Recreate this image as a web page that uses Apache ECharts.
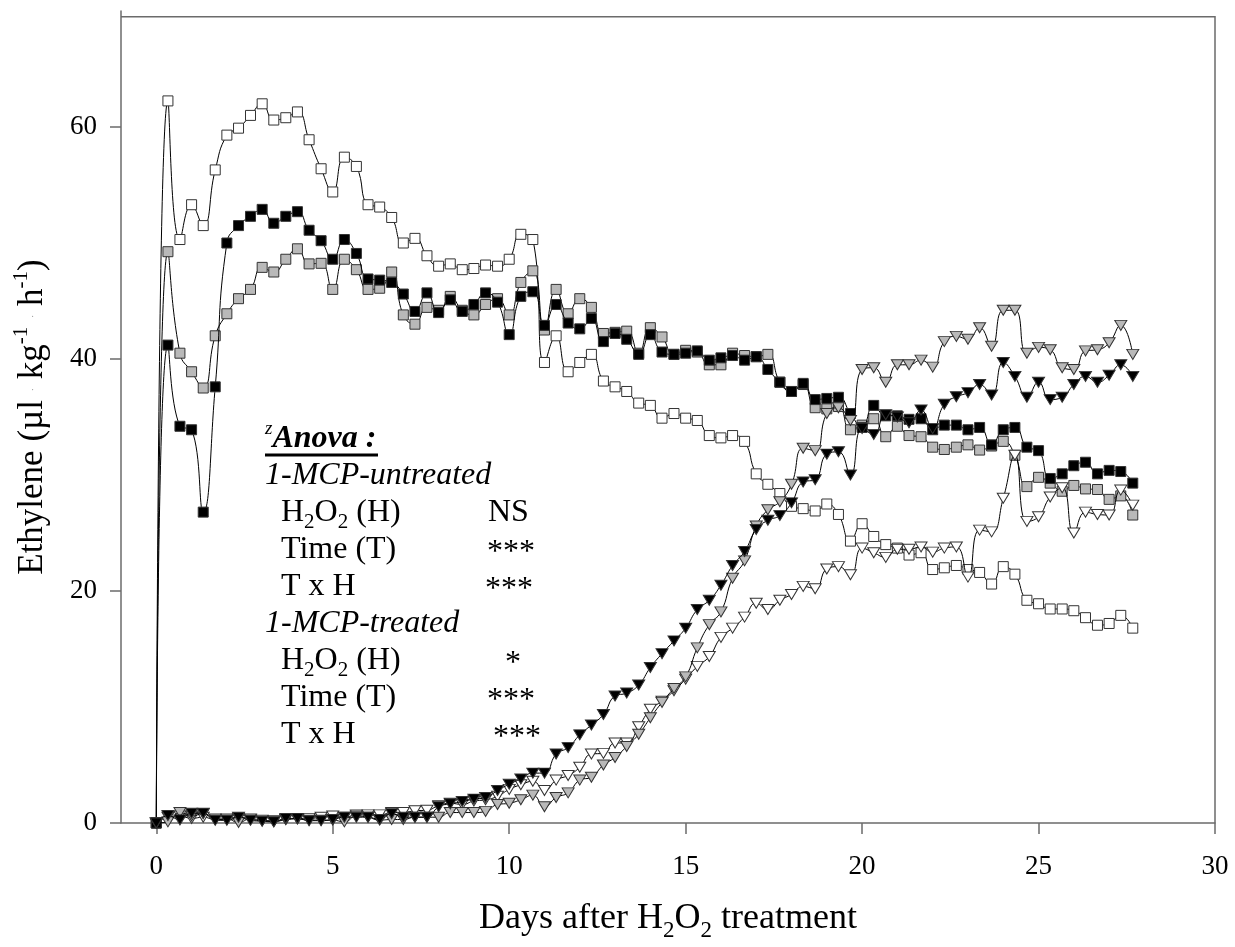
<!DOCTYPE html>
<html>
<head>
<meta charset="utf-8">
<title>Ethylene production</title>
<script src="https://cdn.jsdelivr.net/npm/echarts@6/dist/echarts.min.js"></script>
<style>
  html, body { margin: 0; padding: 0; background: #ffffff; }
  #chart { width: 1235px; height: 947px; }
</style>
</head>
<body>
<div id="chart"></div>
<script>
// Sampling times (days after H2O2 treatment, every 8 h)
const days = [0, 0.33, 0.67, 1, 1.33, 1.67, 2, 2.33, 2.67, 3, 3.33, 3.67, 4, 4.33, 4.67, 5, 5.33, 5.67,
  6, 6.33, 6.67, 7, 7.33, 7.67, 8, 8.33, 8.67, 9, 9.33, 9.67, 10, 10.33, 10.67, 11, 11.33, 11.67,
  12, 12.33, 12.67, 13, 13.33, 13.67, 14, 14.33, 14.67, 15, 15.33, 15.67, 16, 16.33, 16.67, 17, 17.33, 17.67,
  18, 18.33, 18.67, 19, 19.33, 19.67, 20, 20.33, 20.67, 21, 21.33, 21.67, 22, 22.33, 22.67, 23, 23.33, 23.67,
  24, 24.33, 24.67, 25, 25.33, 25.67, 26, 26.33, 26.67, 27, 27.33, 27.67];

// 1-MCP-untreated fruit (squares)
const untreatedWhite = [0, 62.25, 50.3, 53.3, 51.5, 56.3, 59.3, 59.9, 61.0, 62.0, 60.6, 60.8, 61.3, 58.9, 56.4, 54.4,
  57.4, 56.6, 53.3, 53.1, 52.2, 50.0, 50.4, 48.9, 48.0, 48.2, 47.7, 47.8, 48.1, 48.0, 48.6, 50.75, 50.3,
  39.7, 42.0, 38.9, 39.7, 40.4, 38.1, 37.6, 37.2, 36.2, 36.0, 34.9, 35.3, 34.9, 34.7, 33.4, 33.2, 33.4, 32.9,
  30.1, 29.2, 28.4, 27.3, 27.1, 26.9, 27.5, 26.6, 24.3, 25.8, 24.7, 24.0, 23.7, 23.1, 23.3, 21.85, 22.0, 22.2,
  21.85, 21.6, 20.6, 22.1, 21.45, 19.2, 18.9, 18.45, 18.45, 18.3, 17.7, 17.05, 17.2, 17.9, 16.8];
const untreatedBlack = [0, 41.2, 34.2, 33.9, 26.8, 37.6, 50.0, 51.5, 52.3, 52.9, 51.7, 52.3, 52.7, 51.1, 50.2, 48.6,
  50.3, 49.1, 46.9, 46.8, 46.6, 45.6, 44.1, 45.7, 44.0, 45.1, 44.1, 44.7, 45.7, 44.9, 42.1, 45.4, 45.8,
  42.9, 44.7, 43.1, 42.6, 43.5, 41.5, 42.2, 41.7, 40.4, 42.1, 40.6, 40.4, 40.5, 40.7, 39.9, 40.1, 40.3, 39.9,
  40.2, 39.1, 38.0, 37.2, 37.9, 36.5, 36.6, 36.7, 35.3, 34.1, 36.0, 35.1, 35.1, 34.8, 34.85, 33.9, 34.3, 34.3,
  33.9, 34.1, 32.6, 33.9, 34.1, 32.4, 32.1, 29.7, 30.1, 30.8, 31.1, 30.1, 30.4, 30.3, 29.3];
const untreatedGray = [0, 49.25, 40.5, 38.9, 37.5, 42.0, 43.9, 45.2, 46.0, 47.9, 47.5, 48.6, 49.5, 48.2, 48.25, 46.0,
  48.6, 47.7, 46.0, 46.1, 47.5, 43.8, 43.0, 44.45, 44.2, 45.4, 44.2, 43.8, 44.7, 45.2, 43.8, 46.6, 47.6,
  42.5, 46.0, 43.9, 45.2, 44.45, 42.2, 42.3, 42.4, 40.5, 42.7, 41.9, 40.4, 40.75, 40.6, 39.5, 39.5, 40.5, 40.3,
  40.2, 40.4, 38.0, 37.2, 37.8, 35.8, 35.7, 35.9, 33.9, 34.3, 34.85, 33.3, 34.2, 33.4, 33.3, 32.4, 32.2, 32.4,
  32.6, 32.15, 32.5, 32.9, 31.7, 29.0, 29.8, 29.3, 28.6, 29.1, 28.8, 28.75, 27.9, 28.2, 26.55];

// 1-MCP-treated fruit (triangles)
const treatedBlack = [0, 0.64, 0.27, 0.84, 0.84, 0.23, 0.23, 0.5, 0.23, 0.15, 0.1, 0.4, 0.4, 0.2, 0.2, 0.3,
  0.5, 0.5, 0.5, 0.3, 0.8, 0.5, 0.5, 0.5, 1.4, 1.65, 1.85, 2.06, 2.2, 2.8, 3.35, 3.8, 4.3,
  4.3, 5.95, 6.5, 7.6, 8.45, 9.35, 10.95, 11.2, 11.9, 13.4, 14.6, 15.7, 16.8, 18.4, 19.2, 20.5, 22.2, 23.4,
  25.3, 26.1, 26.5, 27.6, 29.4, 29.6, 31.8, 32.0, 30.0, 34.0, 33.5, 35.2, 35.0, 34.5, 35.6, 34.0, 36.1, 36.75,
  37.1, 37.8, 36.9, 39.7, 38.5, 36.7, 38.0, 36.5, 36.7, 37.8, 38.5, 38.0, 38.6, 39.5, 38.5];
const treatedGray = [0, 0.1, 0.9, 0.6, 0.8, 0.35, 0.35, 0.05, 0.35, 0.25, 0.1, 0.3, 0.35, 0.25, 0.25, 0.25,
  0.1, 0.6, 0.5, 0.25, 0.3, 0.3, 0.5, 0.5, 0.5, 0.9, 0.9, 0.9, 1.0, 1.6, 1.7, 2.0, 2.4,
  1.4, 2.2, 2.6, 3.7, 3.95, 5.0, 5.65, 6.6, 7.65, 9.07, 10.4, 11.6, 12.6, 15.1, 17.1, 18.2, 21.1, 22.6,
  25.6, 27.0, 27.7, 29.2, 32.3, 32.1, 35.3, 35.8, 34.7, 39.1, 39.25, 38.0, 39.5, 39.5, 39.9, 39.3, 41.5, 41.95,
  41.7, 42.7, 41.1, 44.2, 44.2, 40.5, 41.0, 40.8, 39.25, 39.1, 40.7, 40.8, 41.4, 42.9, 40.4];
const treatedWhite = [0, 0.5, 0.6, 0.4, 0.5, 0.3, 0.3, 0.4, 0.3, 0.2, 0.2, 0.3, 0.4, 0.4, 0.5, 0.6,
  0.5, 0.7, 0.7, 0.7, 0.9, 0.9, 1.06, 1.1, 1.5, 1.7, 1.6, 1.9, 2.0, 2.3, 2.9, 3.3, 3.6,
  2.8, 3.7, 4.1, 4.8, 5.95, 6.0, 6.9, 6.9, 8.3, 9.8, 10.5, 11.4, 12.4, 13.5, 14.35, 16.0, 16.8, 17.75,
  18.95, 18.4, 19.2, 19.7, 20.4, 20.2, 21.9, 22.1, 21.4, 23.7, 23.3, 22.9, 23.6, 23.6, 23.8, 23.35, 23.7, 23.8,
  21.2, 25.25, 25.1, 28.0, 31.7, 26.0, 26.4, 28.1, 28.9, 25.0, 26.8, 26.6, 26.55, 28.7, 27.4];

// Axis ticks
const xTicks = [0, 5, 10, 15, 20, 25, 30];
const yTicks = [0, 20, 40, 60];

// ANOVA summary lines: [label, significance, indented?, style]
const anovaRows = [
  ['1-MCP-untreated', '', false, 'italic'],
  ['H{sub|2}O{sub|2} (H)', 'NS', true, 'normal'],
  ['Time (T)', '***', true, 'normal'],
  ['T x H', '***', true, 'normal'],
  ['1-MCP-treated', '', false, 'italic'],
  ['H{sub|2}O{sub|2} (H)', '*', true, 'normal'],
  ['Time (T)', '***', true, 'normal'],
  ['T x H', '***', true, 'normal']
];
const anovaSigX = [0, 488, 487, 485, 0, 505, 487, 493];

const FONT = '"Liberation Serif", "Times New Roman", serif';
const AXIS_COLOR = '#6b6b6b';

const chart = echarts.init(document.getElementById('chart'), null, { renderer: 'canvas' });

function toPoints(values) {
  return values.map((v, i) => [days[i], v]);
}

function makeSeries(name, values, shape, fill, z) {
  const square = shape === 'square';
  return {
    name: name,
    type: 'line',
    data: toPoints(values),
    smooth: 0.5,
    symbol: square ? 'rect' : 'triangle',
    symbolRotate: square ? 0 : 180,
    symbolSize: square ? 10 : [12, 10],
    showAllSymbol: true,
    lineStyle: { color: '#000000', width: 1 },
    itemStyle: { color: fill, borderColor: '#333333', borderWidth: 1 },
    emphasis: { disabled: true },
    z: z
  };
}

const yNameRich = {
  sup: { fontFamily: FONT, fontSize: 21, lineHeight: 21, verticalAlign: 'top', color: '#000' },
  dot: { fontFamily: FONT, fontSize: 10, color: '#999' }
};
const xNameRich = {
  sub: { fontFamily: FONT, fontSize: 23, lineHeight: 23, verticalAlign: 'bottom', color: '#000' }
};

chart.setOption({
  animation: false,
  backgroundColor: '#ffffff',
  grid: { left: 121, right: 20, top: 11, bottom: 114, containLabel: false },
  xAxis: {
    type: 'value',
    min: -1,
    max: 30,
    name: 'Days after H{sub|2}O{sub|2} treatment',
    nameLocation: 'middle',
    nameGap: 72,
    nameTextStyle: { fontFamily: FONT, fontSize: 36, color: '#000', lineHeight: 47, rich: xNameRich },
    axisLine: { onZero: false, lineStyle: { color: AXIS_COLOR, width: 1.5 } },
    axisTick: { inside: false, length: 11, customValues: xTicks, lineStyle: { color: AXIS_COLOR, width: 1.5 } },
    axisLabel: { customValues: xTicks, fontFamily: FONT, fontSize: 27, color: '#000', margin: 30 },
    splitLine: { show: false }
  },
  yAxis: {
    type: 'value',
    min: 0,
    max: 70,
    name: 'Ethylene (µl {dot|·} kg{sup|-1} {dot|·} h{sup|-1})',
    nameLocation: 'middle',
    nameGap: 66,
    nameTextStyle: { fontFamily: FONT, fontSize: 35, color: '#000', lineHeight: 44, rich: yNameRich },
    axisLine: { onZero: false, lineStyle: { color: AXIS_COLOR, width: 1.5 } },
    axisTick: { inside: false, length: 11, customValues: yTicks, lineStyle: { color: AXIS_COLOR, width: 1.5 } },
    axisLabel: { customValues: yTicks, fontFamily: FONT, fontSize: 27, color: '#000', margin: 24 },
    splitLine: { show: false }
  },
  series: [
    makeSeries('untreated-white', untreatedWhite, 'square', '#ffffff', 2),
    makeSeries('untreated-gray', untreatedGray, 'square', '#b9b9b9', 3),
    makeSeries('untreated-black', untreatedBlack, 'square', '#000000', 4),
    makeSeries('treated-white', treatedWhite, 'triangle', '#ffffff', 5),
    makeSeries('treated-gray', treatedGray, 'triangle', '#b9b9b9', 6),
    makeSeries('treated-black', treatedBlack, 'triangle', '#000000', 7)
  ]
});

// Frame (top and right edges) placed through the axis scales
const frameTop = 69.5;
const pTL = chart.convertToPixel({ gridIndex: 0 }, [-1, frameTop]);
const pTR = chart.convertToPixel({ gridIndex: 0 }, [30, frameTop]);
const pBR = chart.convertToPixel({ gridIndex: 0 }, [30, 0]);

const graphics = [
  { type: 'polyline', silent: true, z: 10,
    shape: { points: [pTL, pTR, pBR] },
    style: { stroke: AXIS_COLOR, lineWidth: 1.5, fill: null } }
];

// ANOVA box
const textBaseX = 265;
const indentX = 281;
const firstMid = 439;
const rowStep = 37;
const TEXT_FONT_SIZE = 32;

graphics.push({
  type: 'text', silent: true, z: 20,
  style: {
    x: textBaseX, y: firstMid,
    text: '{sup|z}{head|Anova :}',
    verticalAlign: 'middle', align: 'left',
    lineHeight: 40,
    rich: {
      sup: { fontFamily: FONT, fontSize: 19, fontStyle: 'italic', lineHeight: 40, verticalAlign: 'top', fill: '#000' },
      head: { fontFamily: FONT, fontSize: TEXT_FONT_SIZE, fontStyle: 'italic', fontWeight: 'bold', fill: '#000' }
    }
  }
});
graphics.push({
  type: 'rect', silent: true, z: 20,
  shape: { x: textBaseX, y: 453.5, width: 113, height: 3 },
  style: { fill: '#000' }
});

anovaRows.forEach((row, i) => {
  const y = firstMid + rowStep * (i + 1);
  graphics.push({
    type: 'text', silent: true, z: 20,
    style: {
      x: row[2] ? indentX : textBaseX, y: y,
      text: row[0],
      verticalAlign: 'middle', align: 'left',
      fontFamily: FONT, fontSize: TEXT_FONT_SIZE, fontStyle: row[3], fill: '#000',
      lineHeight: 40,
      rich: {
        sub: { fontFamily: FONT, fontSize: 21, lineHeight: 21, verticalAlign: 'bottom', fill: '#000' }
      }
    }
  });
  if (row[1]) {
    graphics.push({
      type: 'text', silent: true, z: 20,
      style: {
        x: anovaSigX[i], y: y + (row[1] === 'NS' ? 0 : 3),
        text: row[1],
        verticalAlign: 'middle', align: 'left',
        fontFamily: FONT, fontSize: TEXT_FONT_SIZE, fill: '#000'
      }
    });
  }
});

chart.setOption({ graphic: graphics });
</script>
</body>
</html>
